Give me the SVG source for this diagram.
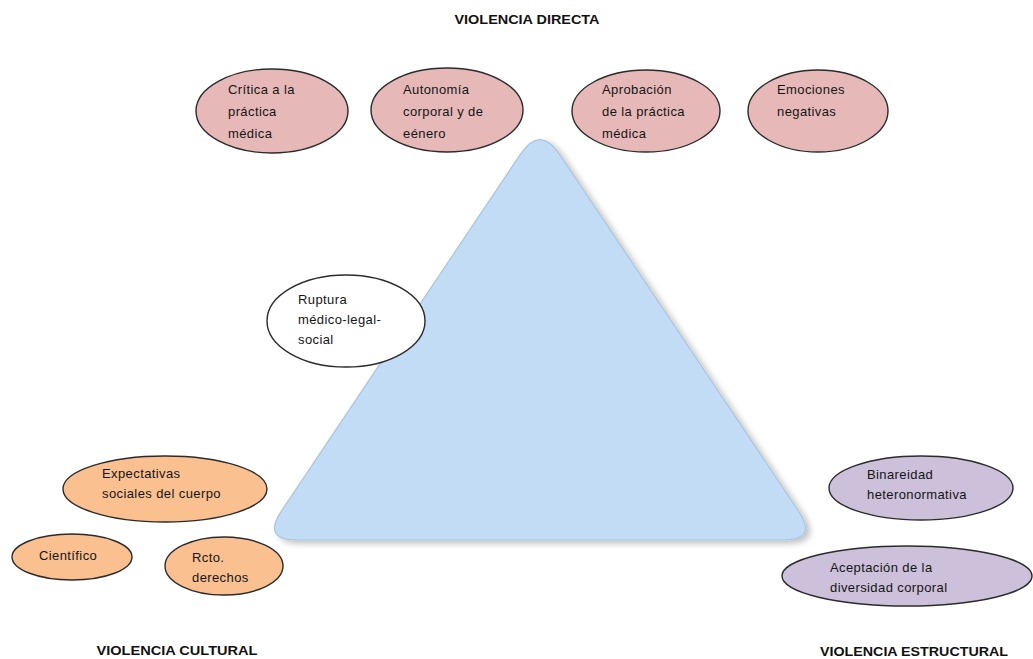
<svg xmlns="http://www.w3.org/2000/svg" width="1033" height="659" viewBox="0 0 1033 659">
<style>
.e{stroke:#2b2b2b;stroke-width:1.4}
.pk{fill:#e6b9b8}
.or{fill:#fac090}
.pu{fill:#ccc0da}
.wh{fill:#ffffff}
.t{font-family:"Liberation Sans",Arial,sans-serif;font-size:13px;letter-spacing:0.4px;fill:#151515}
.h{font-family:"Liberation Sans",Arial,sans-serif;font-size:13px;font-weight:bold;fill:#111;text-anchor:middle}
</style>
<defs>
<filter id="sh" x="-10%" y="-10%" width="120%" height="120%">
<feGaussianBlur in="SourceAlpha" stdDeviation="3"/>
<feOffset dx="4" dy="3" result="b"/>
<feComponentTransfer><feFuncA type="linear" slope="0.25"/></feComponentTransfer>
<feMerge><feMergeNode/><feMergeNode in="SourceGraphic"/></feMerge>
</filter>
</defs>
<rect width="1033" height="659" fill="#ffffff"/>
<g id="triangle">
<path d="M520.5,154.1 Q540,125 559.5,154.1 L798.5,510.9 Q818,540 783,540 L297,540 Q262,540 281.5,510.9 Z" fill="#c2dcf6" stroke="#aac4de" stroke-width="1.2" filter="url(#sh)"/>
</g>
<g id="connectors"></g>
<g id="title-directa"><text class="h" x="527" y="24" textLength="145" lengthAdjust="spacingAndGlyphs">VIOLENCIA DIRECTA</text></g>
<g id="title-cultural"><text class="h" x="177" y="655" textLength="161" lengthAdjust="spacingAndGlyphs">VIOLENCIA CULTURAL</text></g>
<g id="title-estructural"><text class="h" x="914" y="656" textLength="188" lengthAdjust="spacingAndGlyphs">VIOLENCIA ESTRUCTURAL</text></g>
<g id="n-critica"><ellipse class="e pk" cx="272" cy="111" rx="76" ry="42"/>
<text class="t"><tspan x="228" y="94">Crítica a la</tspan><tspan x="228" y="116">práctica</tspan><tspan x="228" y="138">médica</tspan></text></g>
<g id="n-autonomia"><ellipse class="e pk" cx="447" cy="110" rx="76" ry="42"/>
<text class="t"><tspan x="403" y="94">Autonomía</tspan><tspan x="403" y="116">corporal y de</tspan><tspan x="403" y="138">eénero</tspan></text></g>
<g id="n-aprobacion"><ellipse class="e pk" cx="646" cy="111" rx="74" ry="41"/>
<text class="t"><tspan x="602" y="94">Aprobación</tspan><tspan x="602" y="116">de la práctica</tspan><tspan x="602" y="138">médica</tspan></text></g>
<g id="n-emociones"><ellipse class="e pk" cx="818" cy="111" rx="70" ry="41"/>
<text class="t"><tspan x="777" y="94">Emociones</tspan><tspan x="777" y="116">negativas</tspan></text></g>
<g id="n-ruptura"><ellipse class="e wh" cx="346" cy="321" rx="79" ry="46"/>
<text class="t"><tspan x="298" y="304">Ruptura</tspan><tspan x="298" y="324">médico-legal-</tspan><tspan x="298" y="344">social</tspan></text></g>
<g id="n-expectativas"><ellipse class="e or" cx="165" cy="489" rx="102" ry="33"/>
<text class="t"><tspan x="102" y="478">Expectativas</tspan><tspan x="102" y="498">sociales del cuerpo</tspan></text></g>
<g id="n-cientifico"><ellipse class="e or" cx="72" cy="557" rx="60" ry="23"/>
<text class="t" x="39" y="560">Científico</text></g>
<g id="n-rcto"><ellipse class="e or" cx="224" cy="566" rx="59" ry="29"/>
<text class="t"><tspan x="192" y="562">Rcto.</tspan><tspan x="192" y="582">derechos</tspan></text></g>
<g id="n-binareidad"><ellipse class="e pu" cx="921" cy="488" rx="92" ry="32"/>
<text class="t"><tspan x="867" y="479">Binareidad</tspan><tspan x="867" y="499">heteronormativa</tspan></text></g>
<g id="n-aceptacion"><ellipse class="e pu" cx="907" cy="576" rx="125" ry="30"/>
<text class="t"><tspan x="830" y="572">Aceptación de la</tspan><tspan x="830" y="592">diversidad corporal</tspan></text></g>
</svg>
